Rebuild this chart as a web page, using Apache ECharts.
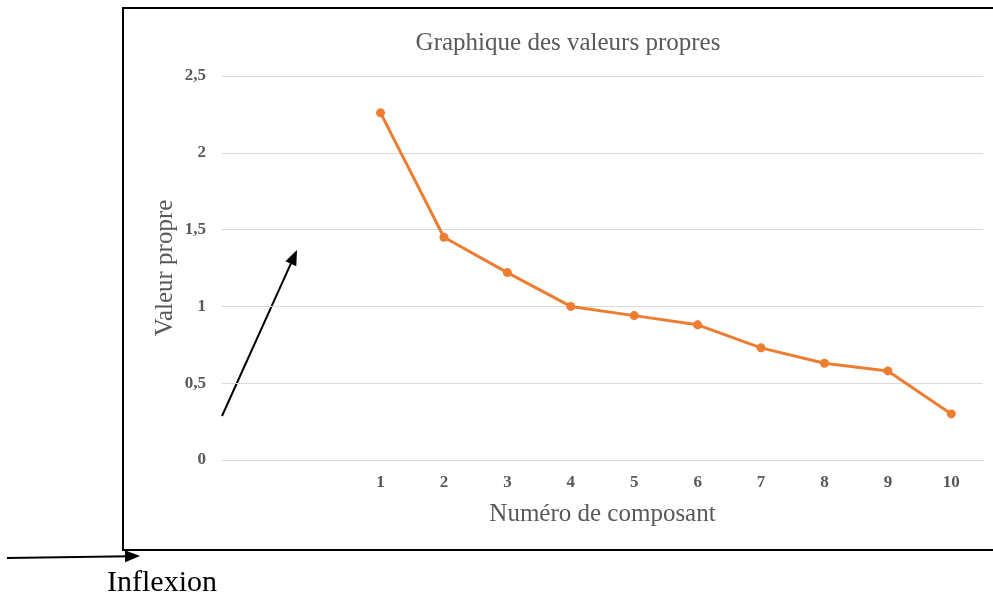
<!DOCTYPE html>
<html>
<head>
<meta charset="utf-8">
<script src="https://cdn.jsdelivr.net/npm/echarts@6/dist/echarts.min.js"></script>
<style>
  html, body { margin: 0; padding: 0; background: #fff; }
  #chart { width: 993px; height: 601px; }
</style>
</head>
<body>
<div id="chart"></div>
<script>
// deux catégories vides à gauche, comme dans l'original
const categories = ['', '', '1', '2', '3', '4', '5', '6', '7', '8', '9', '10']
const valeurs = [null, null, 2.26, 1.45, 1.22, 1.0, 0.94, 0.88, 0.73, 0.63, 0.58, 0.30]
const yTicks = [0, 0.5, 1, 1.5, 2, 2.5]

const font = '"Liberation Serif", "Times New Roman", serif'

// pointe de flèche (triangle) au point (x, y), orientée selon l'angle
function arrowHead(x, y, angle, len, half) {
  const bx = x - len * Math.cos(angle)
  const by = y - len * Math.sin(angle)
  const px = -Math.sin(angle) * half
  const py = Math.cos(angle) * half
  return [[x, y], [bx + px, by + py], [bx - px, by - py]]
}

function arrow(x1, y1, x2, y2) {
  const a = Math.atan2(y2 - y1, x2 - x1)
  const head = arrowHead(x2, y2, a, 15, 6)
  return [
    { type: 'polyline', shape: { points: [[x1, y1], [x2 - 10 * Math.cos(a), y2 - 10 * Math.sin(a)]] },
      style: { stroke: '#000', lineWidth: 2, fill: null }, silent: true },
    { type: 'polygon', shape: { points: head }, style: { fill: '#000' }, silent: true }
  ]
}

let myChart = echarts.init(document.getElementById('chart'))
let option = {
  animation: false,
  backgroundColor: '#fff',
  title: {
    text: 'Graphique des valeurs propres',
    left: 563,
    textAlign: 'center',
    top: 26,
    textStyle: { fontFamily: font, fontSize: 25, fontWeight: 'normal', color: '#595959' }
  },
  grid: { left: 222, right: 10, top: 76, bottom: 141 },
  xAxis: {
    type: 'category',
    data: categories,
    boundaryGap: true,
    name: 'Numéro de composant',
    nameLocation: 'middle',
    nameGap: 42,
    nameTextStyle: { fontFamily: font, fontSize: 25, color: '#595959' },
    axisLine: { show: true, lineStyle: { color: '#d9d9d9', width: 1 } },
    axisTick: { show: false },
    axisLabel: { interval: 0, margin: 14, fontFamily: font, fontSize: 17, fontWeight: 'bold', color: '#595959' },
    splitLine: { show: false }
  },
  yAxis: {
    type: 'value',
    min: 0,
    max: 2.5,
    interval: 0.5,
    name: 'Valeur propre',
    nameLocation: 'middle',
    nameGap: 44,
    nameMoveOverlap: false,
    nameTextStyle: { fontFamily: font, fontSize: 25, color: '#595959' },
    axisLine: { show: false },
    axisTick: { show: false },
    axisLabel: {
      margin: 16,
      fontFamily: font, fontSize: 17, fontWeight: 'bold', color: '#595959',
      formatter: v => yTicks.includes(v) ? String(v).replace('.', ',') : ''
    },
    splitLine: { lineStyle: { color: '#d9d9d9', width: 1 } }
  },
  series: [
    {
      type: 'line',
      data: valeurs,
      connectNulls: false,
      symbol: 'circle',
      symbolSize: 9,
      lineStyle: { color: '#ED7D31', width: 3 },
      itemStyle: { color: '#ED7D31' }
    }
  ],
  graphic: [
    // cadre noir autour du graphique
    { type: 'rect', shape: { x: 123, y: 8, width: 880, height: 542 },
      style: { fill: null, stroke: '#000', lineWidth: 2 }, silent: true },
    ...arrow(222, 416, 297, 250),
    ...arrow(7, 558, 140, 556),
    { type: 'text', left: 107, top: 568,
      style: { text: 'Inflexion', font: '30px ' + font, fill: '#000' }, silent: true }
  ]
}
option && myChart.setOption(option)
</script>
</body>
</html>
